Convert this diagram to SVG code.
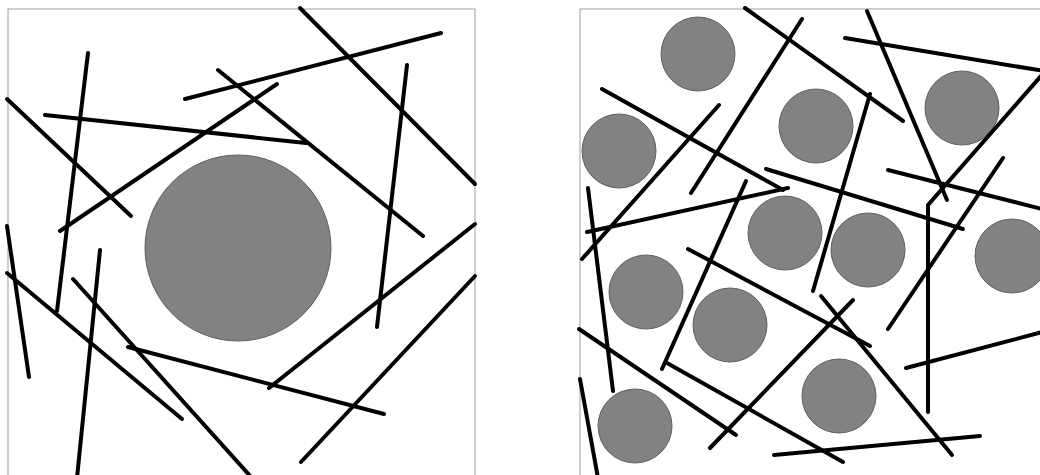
<svg xmlns="http://www.w3.org/2000/svg" width="1040" height="475" viewBox="0 0 1040 475">
<style>
.frame{fill:#fff;stroke:#a0a0a0;stroke-width:1}
.fiber{stroke:#000;stroke-width:4;stroke-linecap:round;fill:none;stroke-linejoin:miter}
.grain{fill:#828282;stroke:#606060;stroke-width:1}
</style>
<rect width="1040" height="475" fill="#fff"/>
<g id="left-panel">
<rect class="frame" x="8" y="9" width="467" height="470"/>
<circle class="grain" cx="238" cy="248" r="93"/>
<g id="left-fibers">
<line class="fiber" x1="88" y1="53" x2="57" y2="311"/>
<line class="fiber" x1="7" y1="99" x2="131" y2="216"/>
<line class="fiber" x1="45" y1="115" x2="306" y2="143"/>
<line class="fiber" x1="60" y1="231" x2="277" y2="84"/>
<line class="fiber" x1="185" y1="99" x2="441" y2="33"/>
<line class="fiber" x1="218" y1="70" x2="423" y2="236"/>
<line class="fiber" x1="300" y1="8" x2="475" y2="184"/>
<line class="fiber" x1="407" y1="65" x2="377" y2="327"/>
<line class="fiber" x1="475" y1="224" x2="269" y2="388"/>
<line class="fiber" x1="475" y1="276" x2="301" y2="462"/>
<line class="fiber" x1="128" y1="347" x2="384" y2="414"/>
<line class="fiber" x1="73" y1="279" x2="252" y2="478"/>
<line class="fiber" x1="7" y1="273" x2="182" y2="419"/>
<line class="fiber" x1="100" y1="250" x2="77" y2="478"/>
<line class="fiber" x1="7" y1="226" x2="29" y2="377"/>
</g>
</g>
<g id="right-panel">
<rect class="frame" x="580" y="9" width="470" height="470"/>
<g id="right-grains">
<circle class="grain" cx="698" cy="54" r="37"/>
<circle class="grain" cx="619" cy="151" r="37"/>
<circle class="grain" cx="816" cy="126" r="37"/>
<circle class="grain" cx="962" cy="108" r="37"/>
<circle class="grain" cx="785" cy="233" r="37"/>
<circle class="grain" cx="868" cy="250" r="37"/>
<circle class="grain" cx="1012" cy="256" r="37"/>
<circle class="grain" cx="646" cy="292" r="37"/>
<circle class="grain" cx="730" cy="325" r="37"/>
<circle class="grain" cx="635" cy="426" r="37"/>
<circle class="grain" cx="839" cy="396" r="37"/>
</g>
<g id="right-fibers">
<line class="fiber" x1="745" y1="8" x2="903" y2="121"/>
<line class="fiber" x1="802" y1="19" x2="691" y2="193"/>
<line class="fiber" x1="602" y1="89" x2="783" y2="190"/>
<line class="fiber" x1="587" y1="232" x2="788" y2="188"/>
<line class="fiber" x1="719" y1="105" x2="582" y2="259"/>
<line class="fiber" x1="588" y1="188" x2="613" y2="391"/>
<line class="fiber" x1="746" y1="181" x2="662" y2="369"/>
<line class="fiber" x1="766" y1="169" x2="963" y2="229"/>
<line class="fiber" x1="888" y1="170" x2="1050" y2="211"/>
<line class="fiber" x1="845" y1="38" x2="1050" y2="72"/>
<line class="fiber" x1="867" y1="11" x2="947" y2="200"/>
<polyline class="fiber" points="1048,68 928,205 928,412"/>
<line class="fiber" x1="870" y1="94" x2="813" y2="291"/>
<line class="fiber" x1="1003" y1="158" x2="888" y2="329"/>
<line class="fiber" x1="688" y1="249" x2="870" y2="346"/>
<line class="fiber" x1="667" y1="363" x2="843" y2="462"/>
<line class="fiber" x1="579" y1="329" x2="736" y2="435"/>
<line class="fiber" x1="710" y1="448" x2="853" y2="300"/>
<line class="fiber" x1="580" y1="379" x2="598" y2="478"/>
<line class="fiber" x1="774" y1="455" x2="980" y2="436"/>
<line class="fiber" x1="821" y1="296" x2="952" y2="455"/>
<line class="fiber" x1="906" y1="368" x2="1050" y2="330"/>
</g>
</g>
</svg>
